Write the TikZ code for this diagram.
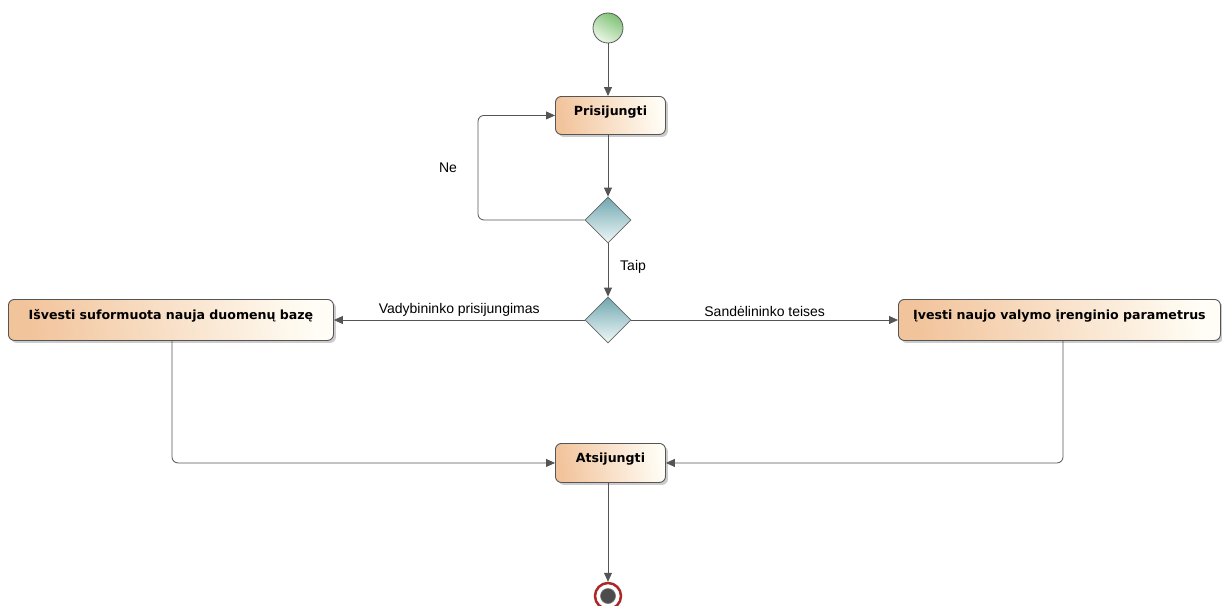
\documentclass[tikz,border=0pt]{standalone}
\usepackage{fontspec}
\setmainfont{Liberation Sans}
\newfontfamily\boxfont{DejaVu Sans}
\usetikzlibrary{arrows.meta,shapes.geometric,shadows}
\definecolor{boxL}{RGB}{242,196,156}
\definecolor{boxR}{RGB}{255,253,245}
\definecolor{edge}{RGB}{85,85,85}
\definecolor{decT}{RGB}{112,168,176}
\definecolor{decB}{RGB}{240,248,248}
\definecolor{startD}{RGB}{128,194,120}
\definecolor{startL}{RGB}{235,247,230}
\definecolor{endR}{RGB}{170,40,40}
\tikzset{
  action/.style={draw=edge, line width=0.9pt, rounded corners=6pt,
    left color=boxL, right color=boxR, shading angle=100,
    drop shadow={shadow xshift=2.5pt, shadow yshift=-2.5pt, opacity=0.4},
    font=\boxfont\bfseries\fontsize{12.6}{14}\selectfont,
    anchor=north west, inner sep=0pt, text depth=0pt},
  decision/.style={diamond, draw=gray!80!black, line width=0.8pt,
    top color=decT, bottom color=decB, minimum width=46pt, minimum height=46pt, inner sep=0pt},
  flow/.style={draw=edge, line width=0.8pt, -{Triangle[width=8pt,length=9pt]}},
  lbl/.style={font=\fontsize{14}{16}\selectfont, inner sep=1pt}
}
\begin{document}
\begin{tikzpicture}[x=1pt,y=-1pt]
\useasboundingbox (0,0) rectangle (1222,605);
% start and end markers
\node[circle, draw=gray!70!black, line width=0.8pt, minimum size=30pt, inner sep=0pt,
  shading=axis, top color=startD, bottom color=startL, shading angle=-30] (start) at (608,28) {};
\node[circle, draw=endR, line width=2.5pt, fill=white, minimum size=26pt, inner sep=0pt] (stop) at (608,596) {};
\node[circle, fill=black!70, draw=black!55, line width=0.6pt, minimum size=15pt, inner sep=0pt] (stopdot) at (stop) {};
% actions
\node[action, minimum width=110pt, minimum height=38pt, text width=110pt, align=center] (login) at (555,96)
  {\raisebox{10pt}{Prisijungti}};
\node[action, minimum width=325pt, minimum height=41pt, text width=325pt, align=center] (export) at (8,299)
  {\raisebox{11pt}{Išvesti suformuota nauja duomenų bazę}};
\node[action, minimum width=322pt, minimum height=41pt, text width=322pt, align=center] (enter) at (898,299)
  {\raisebox{11pt}{Įvesti naujo valymo įrenginio parametrus}};
\node[action, minimum width=110pt, minimum height=39pt, text width=110pt, align=center] (logout) at (555,443)
  {\raisebox{10pt}{Atsijungti}};
% decisions
\node[decision] (check) at (608,220) {};
\node[decision] (role) at (608,320) {};
\coordinate (back) at (478,168);
% flows
\draw[flow] (start) -- (start |- login.north);
\draw[flow] (login.south -| start) -- (check.north);
\draw[flow, rounded corners=6pt] (check.west) -| (back) |- (login.west);
\node[lbl] (ne) at (448,168) {Ne};
\draw[flow] (check.south) -- (role.north);
\node[lbl, anchor=west] (taip) at (619,267) {Taip};
\draw[flow] (role.west) -- node[lbl, above=2pt, pos=0.5] {Vadybininko prisijungimas} (export.east |- role);
\draw[flow] (role.east) -- node[lbl, above=2pt, pos=0.5] {Sandėlininko teises} (enter.west |- role);
\coordinate (exportout) at (172,340);
\coordinate (enterout) at (1063,340);
\draw[flow, rounded corners=6pt] (exportout) |- (logout.west);
\draw[flow, rounded corners=6pt] (enterout) |- (logout.east);
\draw[flow] (logout.south -| start) -- (stop.north);
\end{tikzpicture}
\end{document}
